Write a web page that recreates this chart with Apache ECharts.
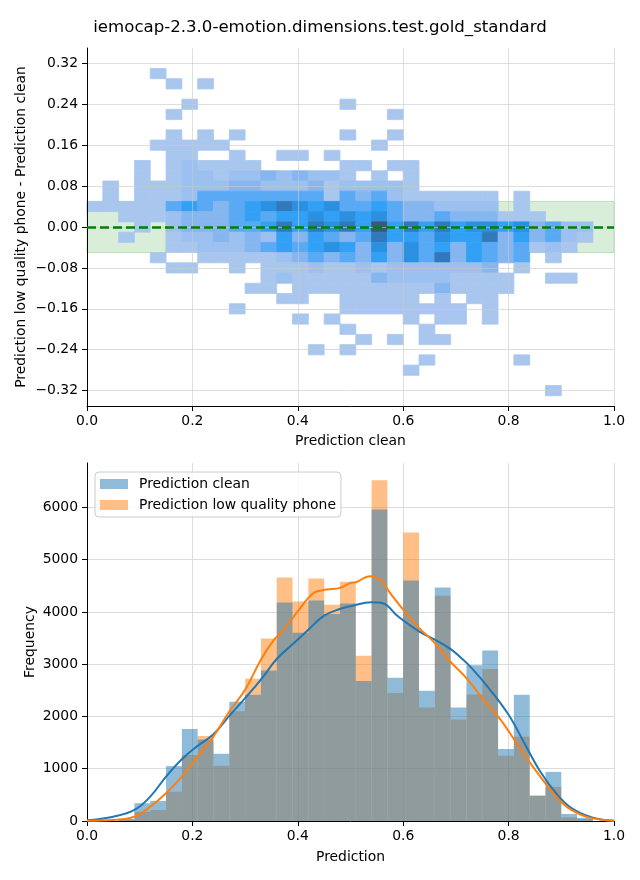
<!DOCTYPE html>
<html>
<head>
<meta charset="utf-8">
<script src="https://cdn.jsdelivr.net/npm/echarts@6/dist/echarts.min.js"></script>
<style>
html,body{margin:0;padding:0;background:#ffffff;}
#chart{width:640px;height:880px;}
</style>
</head>
<body>
<div id="chart"></div>
<script>
// ---------------- data ----------------
const titleText = 'iemocap-2.3.0-emotion.dimensions.test.gold_standard';
const cleanName = 'Prediction clean';
const phoneName = 'Prediction low quality phone';

// histogram bins (left edges) shared by both panels
const binWidth = 0.03;
const binStarts = [0.00,0.03,0.06,0.09,0.12,0.15,0.18,0.21,0.24,0.27,0.30,0.33,0.36,0.39,0.42,0.45,
                   0.48,0.51,0.54,0.57,0.60,0.63,0.66,0.69,0.72,0.75,0.78,0.81,0.84,0.87,0.90,0.93];

// bottom panel: counts per bin
const cleanCounts = [0,0,40,340,385,1050,1760,1560,1285,2280,2415,2880,4180,3600,4220,3960,
                     4160,2680,5960,2740,4600,2490,4470,2170,2980,3260,1380,2415,485,940,135,60];
const phoneCounts = [0,0,30,175,210,560,1265,1625,1055,2100,2720,3490,4660,4200,4640,4140,
                     4580,3160,6520,2450,5520,2170,4310,1940,2420,2910,1250,1610,485,650,70,40];

// KDE curves [x, density-scaled count]
const kdeClean = [[0.0,13],[0.05,83],[0.09,211],[0.12,466],[0.15,850],[0.18,1182],[0.21,1437],[0.24,1661],
  [0.27,2012],[0.30,2351],[0.33,2703],[0.36,3099],[0.39,3380],[0.42,3661],[0.45,3929],[0.48,4057],[0.50,4109],
  [0.54,4185],[0.56,4172],[0.59,3917],[0.63,3629],[0.66,3469],[0.69,3290],[0.71,3120],[0.73,2926],[0.765,2511],
  [0.80,2032],[0.83,1489],[0.86,946],[0.89,531],[0.92,243],[0.96,64],[1.0,5]];
const kdePhone = [[0.0,5],[0.05,19],[0.09,83],[0.12,275],[0.15,531],[0.18,850],[0.21,1233],[0.24,1616],
  [0.27,2096],[0.30,2511],[0.33,3086],[0.355,3469],[0.37,3620],[0.40,4012],[0.43,4364],[0.455,4428],[0.48,4460],
  [0.50,4556],[0.51,4568],[0.537,4683],[0.556,4620],[0.575,4364],[0.60,4044],[0.63,3693],[0.657,3437],
  [0.686,3086],[0.72,2735],[0.75,2351],[0.785,1936],[0.815,1489],[0.846,1041],[0.88,594],[0.91,275],
  [0.947,83],[0.985,13],[1.0,5]];

// top panel: 2D histogram, rows are y-bins (centres below), columns are the x-bins above
const cellHeight = 0.02;
const yBinCentres = [0.30,0.28,0.26,0.24,0.22,0.20,0.18,0.16,0.14,0.12,0.10,0.08,0.06,0.04,0.02,0.00,
                     -0.02,-0.04,-0.06,-0.08,-0.10,-0.12,-0.14,-0.16,-0.18,-0.20,-0.22,-0.24,-0.26,-0.28,-0.30,-0.32];
// one digit per column = relative density level (0 = empty)
const densityRows = [
  '00001000'+'00000000'+'00000000'+'00000000',
  '00000101'+'00000000'+'00000000'+'00000000',
  '00000000'+'00000000'+'00000000'+'00000000',
  '00000010'+'00000000'+'10000000'+'00000000',
  '00000100'+'00000000'+'00010000'+'00000000',
  '00000000'+'00000000'+'00000000'+'00000000',
  '00000101'+'01000000'+'10010000'+'00000000',
  '00001111'+'10000000'+'00100000'+'00000000',
  '00000110'+'01001101'+'00000000'+'00000000',
  '00010121'+'11100000'+'11011000'+'00000000',
  '00010122'+'12232322'+'10101000'+'00000000',
  '01011122'+'23322231'+'22221000'+'00000000',
  '01011124'+'44444441'+'43421111'+'11010000',
  '11111454'+'34567656'+'44543322'+'22010000',
  '00111233'+'34545565'+'65643343'+'33111000',
  '00010233'+'34457576'+'75857575'+'66563422',
  '00100122'+'32325354'+'34755465'+'57353421',
  '00000112'+'22345456'+'53636453'+'54341210',
  '00001001'+'11112343'+'43536473'+'54340100',
  '00000110'+'01011121'+'12122222'+'23010000',
  '00000000'+'00012111'+'11322221'+'11100110',
  '00000000'+'00110111'+'11111131'+'11100000',
  '00000000'+'00001100'+'11111010'+'11000000',
  '00000000'+'01000000'+'11111111'+'01000000',
  '00000000'+'00000101'+'00001011'+'01000000',
  '00000000'+'00000000'+'10000100'+'00000000',
  '00000000'+'00000000'+'01010110'+'00000000',
  '00000000'+'00000010'+'10000000'+'00000000',
  '00000000'+'00000000'+'00000100'+'00010000',
  '00000000'+'00000000'+'00001000'+'00000000',
  '00000000'+'00000000'+'00000000'+'00000000',
  '00000000'+'00000000'+'00000000'+'00000100'
];
const densityColors = ['#a9c7ee','#9cc0ef','#86b6f0','#5aa9f4','#32a1f5','#2b90e0','#3279bc','#3d5775'];

// shaded tolerance regions [x0, x1, y0, y1]
const toleranceBoxes = [[0.0,0.15,-0.05,0.05],[0.78,1.0,-0.05,0.05]];

const topYTicks = [-0.32,-0.24,-0.16,-0.08,0,0.08,0.16,0.24,0.32];
const bottomYTicks = [0,1000,2000,3000,4000,5000,6000];

// ---------------- build ----------------
const heatData = [];
densityRows.forEach((row, r) => {
  for (let c = 0; c < row.length; c++) {
    const lvl = +row[c];
    if (lvl > 0) heatData.push([binStarts[c] + binWidth / 2, yBinCentres[r], lvl]);
  }
});
const cleanData = binStarts.map((s, i) => [s, s + binWidth, cleanCounts[i]]);
const phoneData = binStarts.map((s, i) => [s, s + binWidth, phoneCounts[i]]);

const FONT = 'DejaVu Sans';
const FS = 13.9;
function axisBase(extra) {
  const base = {
    axisLine: {show: true, onZero: false, lineStyle: {color: '#000', width: 1}},
    axisTick: {show: true, inside: false, length: 5, lineStyle: {color: '#000', width: 1}},
    axisLabel: {color: '#000', fontFamily: FONT, fontSize: FS},
    splitLine: {show: true, lineStyle: {color: '#dcdcdc', width: 1}},
    nameLocation: 'middle',
    nameMoveOverlap: false,
    nameTextStyle: {color: '#000', fontFamily: FONT, fontSize: FS}
  };
  for (const k in extra) {
    if (typeof extra[k] === 'object' && base[k] && !Array.isArray(extra[k])) base[k] = Object.assign({}, base[k], extra[k]);
    else base[k] = extra[k];
  }
  return base;
}
const fmtSigned2 = v => (v < -1e-9 ? '\u2212' : '') + Math.abs(v).toFixed(2);
const overGrid = {show: true, lineStyle: {color: 'rgba(200,200,200,0.6)', width: 1}};

function barRenderer(fill) {
  return function (params, api) {
    const a = api.coord([api.value(0), api.value(2)]);
    const b = api.coord([api.value(1), 0]);
    return {type: 'rect', shape: {x: a[0], y: a[1], width: b[0] - a[0], height: b[1] - a[1]}, style: {fill: fill}};
  };
}

const option = {
  animation: false,
  backgroundColor: '#ffffff',
  title: {
    text: titleText, left: 'center', top: 14,
    textStyle: {fontFamily: FONT, fontSize: 16.6, fontWeight: 'normal', color: '#000'}
  },
  legend: {
    data: [
      {name: cleanName, itemStyle: {color: 'rgba(31,119,180,0.5)'}},
      {name: phoneName, itemStyle: {color: 'rgba(255,127,14,0.5)'}}
    ],
    orient: 'vertical', left: 95, top: 472, padding: [4, 5, 4, 5], itemGap: 5,
    itemWidth: 28, itemHeight: 10, icon: 'rect', selectedMode: false,
    backgroundColor: 'rgba(255,255,255,0.8)', borderColor: '#cccccc', borderWidth: 1, borderRadius: 4,
    textStyle: {fontFamily: FONT, fontSize: FS, color: '#000', lineHeight: 16, padding: [0, 0, 0, 6]}
  },
  visualMap: {
    show: false, type: 'continuous', seriesIndex: 1, dimension: 2, min: 1, max: densityColors.length,
    inRange: {color: densityColors}
  },
  grid: [
    {left: 87, right: 26, top: 48, height: 358},
    {left: 87, right: 26, top: 463, height: 358}
  ],
  xAxis: [
    axisBase({gridIndex: 0, type: 'value', min: 0, max: 1, interval: 0.2, name: 'Prediction clean', nameGap: 28, z: 3,
      splitLine: overGrid,
      axisLabel: {formatter: v => v.toFixed(1), margin: 8}}),
    axisBase({gridIndex: 1, type: 'value', min: 0, max: 1, interval: 0.2, name: 'Prediction', nameGap: 29,
      axisLabel: {formatter: v => v.toFixed(1), margin: 8}})
  ],
  yAxis: [
    axisBase({gridIndex: 0, type: 'value', min: -0.35, max: 0.35, name: 'Prediction low quality phone - Prediction clean', nameGap: 59, z: 3,
      splitLine: overGrid,
      axisTick: {customValues: topYTicks},
      axisLabel: {customValues: topYTicks, formatter: fmtSigned2, margin: 9}}),
    axisBase({gridIndex: 1, type: 'value', min: 0, max: 6850, name: 'Frequency', nameGap: 50,
      axisTick: {customValues: bottomYTicks},
      axisLabel: {customValues: bottomYTicks, formatter: v => String(Math.round(v)), margin: 9}})
  ],
  series: [
    {
      type: 'custom', name: 'tolerance', xAxisIndex: 0, yAxisIndex: 0, z: 1, silent: true,
      data: toleranceBoxes, encode: {x: [0, 1], y: [2, 3]},
      renderItem: function (params, api) {
        const a = api.coord([api.value(0), api.value(3)]);
        const b = api.coord([api.value(1), api.value(2)]);
        return {type: 'rect', shape: {x: a[0], y: a[1], width: b[0] - a[0], height: b[1] - a[1]},
          style: {fill: 'rgba(44,160,44,0.18)', stroke: 'rgba(44,160,44,0.25)', lineWidth: 1}};
      }
    },
    {
      type: 'custom', name: 'density', xAxisIndex: 0, yAxisIndex: 0, z: 2, silent: true,
      data: heatData, encode: {x: 0, y: 1},
      renderItem: function (params, api) {
        const x = api.value(0), y = api.value(1);
        const a = api.coord([x - binWidth / 2, y + cellHeight / 2]);
        const b = api.coord([x + binWidth / 2, y - cellHeight / 2]);
        const col = api.visual('color');
        return {type: 'rect', shape: {x: a[0], y: a[1], width: b[0] - a[0], height: b[1] - a[1]},
          style: {fill: col, stroke: col, lineWidth: 0.8}};
      },
      markLine: {
        silent: true, z: 6, symbol: ['none', 'none'], label: {show: false},
        lineStyle: {color: '#008000', type: [9, 4], width: 2.5},
        data: [{yAxis: 0}]
      }
    },
    {
      type: 'custom', name: phoneName, xAxisIndex: 1, yAxisIndex: 1, z: 2, silent: true,
      itemStyle: {color: 'rgba(255,127,14,0.5)'},
      data: phoneData, encode: {x: [0, 1], y: 2},
      renderItem: barRenderer('rgba(255,127,14,0.5)')
    },
    {
      type: 'custom', name: cleanName, xAxisIndex: 1, yAxisIndex: 1, z: 3, silent: true,
      itemStyle: {color: 'rgba(31,119,180,0.5)'},
      data: cleanData, encode: {x: [0, 1], y: 2},
      renderItem: barRenderer('rgba(31,119,180,0.5)')
    },
    {
      type: 'line', name: 'kde clean', xAxisIndex: 1, yAxisIndex: 1, z: 4, silent: true,
      data: kdeClean, smooth: 0.4, showSymbol: false, symbol: 'none',
      lineStyle: {color: '#1f77b4', width: 2}
    },
    {
      type: 'line', name: 'kde phone', xAxisIndex: 1, yAxisIndex: 1, z: 4, silent: true,
      data: kdePhone, smooth: 0.4, showSymbol: false, symbol: 'none',
      lineStyle: {color: '#ff7f0e', width: 2}
    }
  ]
};

const chart = echarts.init(document.getElementById('chart'), null, {renderer: 'canvas'});
chart.setOption(option);
</script>
</body>
</html>
